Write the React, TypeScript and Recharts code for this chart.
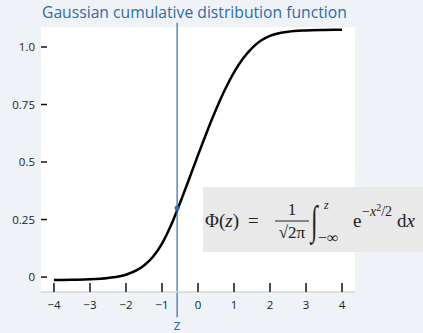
import { LineChart, Line, XAxis, YAxis, CartesianGrid, ReferenceLine, ReferenceDot } from 'recharts'

// points
const zs = [-4, -3.5, -3, -2.5, -2, -1.5, -1.25, -1, -0.75, -0.5, -0.25, 0, 0.25, 0.5, 0.75, 1, 1.25, 1.5, 1.75, 2, 2.5, 3, 3.5, 4]
const phi = [-0.013, -0.012, -0.01, -0.004, 0.01, 0.05, 0.088, 0.145, 0.225, 0.322, 0.425, 0.53, 0.632, 0.728, 0.815, 0.89, 0.95, 0.995, 1.028, 1.048, 1.066, 1.072, 1.074, 1.075]
const xTicks = [-4, -3, -2, -1, 0, 1, 2, 3, 4]
const yTicks = [0, 0.25, 0.5, 0.75, 1]
const yLabels = ['0', '0.25', '0.5', '0.75', '1.0']
const zMark = -0.58
const phiAtZ = 0.3

const data = zs.map((x, i) => ({ x, y: phi[i] }))

const BLUE = '#2b6cab'
const FONT = '"Open Sans", sans-serif'
const SERIF = '"Liberation Serif", "DejaVu Serif", serif'

const XTick = (props: any) => {
  const { x, y, payload } = props
  const label = payload.value < 0 ? '\u2212' + Math.abs(payload.value) : String(payload.value)
  return (
    <g>
      <line x1={x} x2={x} y1={y - 9} y2={y} stroke="#111" strokeWidth={1.5} />
      <text x={x} y={y + 17} textAnchor="middle" fontSize={11.5} fontFamily={FONT} fill="#222">{label}</text>
    </g>
  )
}

const YTick = (props: any) => {
  const { x, y, payload } = props
  const i = yTicks.indexOf(payload.value)
  return (
    <g>
      <line x1={x + 6} x2={x + 12} y1={y} y2={y} stroke="#111" strokeWidth={1.5} />
      <text x={x} y={y + 4} textAnchor="end" fontSize={11.5} fontFamily={FONT} fill="#222">{yLabels[i]}</text>
    </g>
  )
}

const ZLabel = (props: any) => (
  <text x={props.cx} y={props.cy + 5} textAnchor="middle" fontSize={15} fontFamily={FONT} fill={BLUE}>z</text>
)

export default function App() {
  return (
    <div style={{ position: 'absolute', left: 0, top: 0, width: 423, height: 333, background: '#eff3f7' }}>
      <LineChart width={423} height={333} data={data} margin={{ top: 27, right: 68, bottom: 0, left: 0 }}>
        <CartesianGrid fill="#ffffff" horizontal={false} vertical={false} />
        <XAxis
          type="number"
          dataKey="x"
          domain={[-4.36, 4.36]}
          ticks={xTicks}
          allowDataOverflow
          height={41}
          tickSize={0}
          tickMargin={0}
          tick={<XTick />}
          axisLine={{ stroke: '#d3d7dc', strokeWidth: 1.5 }}
          interval={0}
        />
        <YAxis
          type="number"
          domain={[-0.065, 1.087]}
          ticks={yTicks}
          allowDataOverflow
          width={41}
          tickSize={0}
          tickMargin={6}
          tick={<YTick />}
          axisLine={false}
          interval={0}
        />
        <Line type="monotone" dataKey="y" stroke="#000" strokeWidth={2.5} dot={false} isAnimationActive={false} />
        <ReferenceLine
          segment={[{ x: zMark, y: 1.105 }, { x: zMark, y: -0.175 }]}
          stroke={BLUE}
          strokeWidth={1.2}
          ifOverflow="visible"
        />
        <ReferenceDot x={zMark} y={phiAtZ} r={2.5} fill={BLUE} stroke="none" ifOverflow="visible" />
        <ReferenceDot x={zMark} y={-0.209} r={0} ifOverflow="visible" shape={<ZLabel />} />
      </LineChart>
      <svg width={423} height={333} style={{ position: 'absolute', left: 0, top: 0, pointerEvents: 'none' }}>
        <text x={42} y={18} fontSize={15.7} fontFamily={FONT} fill={BLUE}>Gaussian cumulative distribution function</text>
        <rect x={203} y={187} width={220} height={65} fill="#e9e9e9" />
        <g fontFamily={SERIF} fill="#222">
          <text x={205} y={227} fontSize={19}>Φ(<tspan fontStyle="italic">z</tspan>)</text>
          <text x={248} y={227} fontSize={19}>=</text>
          <text x={292} y={215} fontSize={17} textAnchor="middle">1</text>
          <line x1={275} x2={309} y1={221} y2={221} stroke="#222" strokeWidth={1} />
          <text x={292} y={238} fontSize={17} textAnchor="middle">√2π</text>
          <text transform="translate(311,234) scale(1,1.7)" fontSize={24}>∫</text>
          <text x={324} y={209} fontSize={12} fontStyle="italic">z</text>
          <text x={318} y={243} fontSize={16}>−∞</text>
          <text x={353} y={227} fontSize={19}>e</text>
          <text x={362} y={216} fontSize={14}>−<tspan fontStyle="italic">x</tspan><tspan fontSize={10} dy={-5}>2</tspan><tspan dy={5}>/2</tspan></text>
          <text x={397} y={227} fontSize={19}>d<tspan fontStyle="italic">x</tspan></text>
        </g>
      </svg>
    </div>
  )
}
